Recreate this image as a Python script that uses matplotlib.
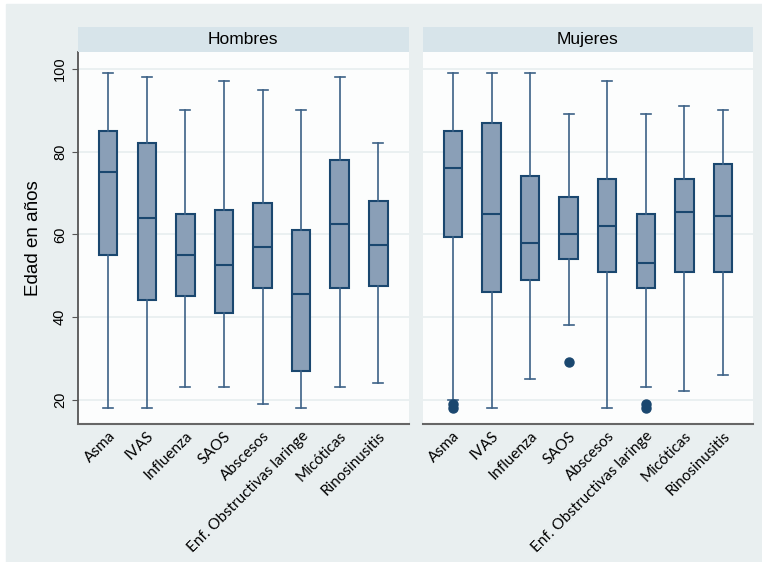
import numpy as np
import matplotlib.pyplot as plt
from matplotlib.patches import Rectangle

categorias = ["Asma", "IVAS", "Influenza", "SAOS", "Abscesos",
              "Enf. Obstructivas laringe", "Micóticas", "Rinosinusitis"]
paneles = ["Hombres", "Mujeres"]

# resumen por grupo: bigote inferior, Q1, mediana, Q3, bigote superior, atípicos
h_min = [18, 18, 23, 23, 19, 18, 23, 24]
h_q1 = [55, 44, 45, 41, 47, 27, 47, 47.5]
h_med = [75, 64, 55, 52.5, 57, 45.5, 62.5, 57.5]
h_q3 = [85, 82, 65, 66, 67.5, 61, 78, 68]
h_max = [99, 98, 90, 97, 95, 90, 98, 82]
h_out = [[], [], [], [], [], [], [], []]

m_min = [20, 18, 25, 38, 18, 23, 22, 26]
m_q1 = [59.3, 46, 49, 54, 51, 47, 51, 51]
m_med = [76, 65, 58, 60, 62, 53, 65.5, 64.5]
m_q3 = [85, 87, 74, 69, 73.5, 65, 73.5, 77]
m_max = [99, 99, 99, 89, 97, 89, 91, 90]
m_out = [[18, 19], [], [], [29], [], [18, 19], [], []]

yticks = [20, 40, 60, 80, 100]

BG = "#e9eff0"
STRIP = "#d7e4ea"
NAVY = "#1a476f"
FILL = "#8a9fb7"
WHISK = "#3d6287"


def make_stats(lo, q1, med, q3, hi, out):
    return [dict(whislo=a, q1=b, med=c, q3=d, whishi=e, fliers=f)
            for a, b, c, d, e, f in zip(lo, q1, med, q3, hi, out)]


datos = [make_stats(h_min, h_q1, h_med, h_q3, h_max, h_out),
         make_stats(m_min, m_q1, m_med, m_q3, m_max, m_out)]

W, H = 762, 562
fig = plt.figure(figsize=(W / 100, H / 100), dpi=100, facecolor="white")
fig.patches.append(Rectangle((6 / W, 0), 1 - 6 / W, 1 - 4 / H,
                             transform=fig.transFigure, color=BG, zorder=-10))

lefts = [78, 422.7]
pw = 330.5
bottom, top = 423.5, 52
strip_top = 27.3
pos = np.arange(1, len(categorias) + 1)

for k, (nombre, stats) in enumerate(zip(paneles, datos)):
    ax = fig.add_axes([lefts[k] / W, 1 - bottom / H, pw / W, (bottom - top) / H])
    ax.set_facecolor("#fcfdfd")
    ax.bxp(stats, positions=pos, widths=0.48, capwidths=0.26, patch_artist=True,
           boxprops=dict(facecolor=FILL, edgecolor=NAVY, linewidth=1.5),
           medianprops=dict(color=NAVY, linewidth=1.5),
           whiskerprops=dict(color=WHISK, linewidth=1.2),
           capprops=dict(color=WHISK, linewidth=1.2),
           flierprops=dict(marker="o", markerfacecolor=NAVY, markeredgecolor=NAVY,
                           markersize=6.5))
    ax.set_xlim(0.216, 8.784)
    ax.set_ylim(14.24, 104.1)
    ax.set_yticks(yticks)
    ax.grid(axis="y", color=BG, linewidth=1.3)
    ax.set_axisbelow(True)
    for s in ["top", "right"]:
        ax.spines[s].set_visible(False)
    ax.spines["bottom"].set_color("#666666")
    ax.spines["bottom"].set_linewidth(1.5)
    ax.set_xticks(pos)
    ax.set_xticklabels(categorias, rotation=45, ha="right", rotation_mode="anchor",
                       family="Lato", fontsize=11)
    ax.tick_params(axis="x", length=0, pad=4)
    if k == 0:
        ax.spines["left"].set_color("#555555")
        ax.spines["left"].set_linewidth(1.3)
        ax.tick_params(axis="y", length=4, color="#555555", pad=4)
        ax.set_yticklabels([str(t) for t in yticks], rotation=90, va="center",
                           family="Liberation Sans", fontsize=10.5)
        ax.set_ylabel("Edad en años", family="Liberation Sans", fontsize=13.5,
                      labelpad=8)
    else:
        ax.spines["left"].set_visible(False)
        ax.tick_params(axis="y", length=0, labelleft=False)

    sax = fig.add_axes([lefts[k] / W, 1 - top / H, pw / W, (top - strip_top) / H])
    sax.set_facecolor(STRIP)
    sax.set_xticks([])
    sax.set_yticks([])
    for s in sax.spines.values():
        s.set_visible(False)
    sax.text(0.5, 0.5, nombre, ha="center", va="center", transform=sax.transAxes,
             family="Liberation Sans", fontsize=12.5)

fig.savefig("out.png", dpi=100, facecolor="white")
